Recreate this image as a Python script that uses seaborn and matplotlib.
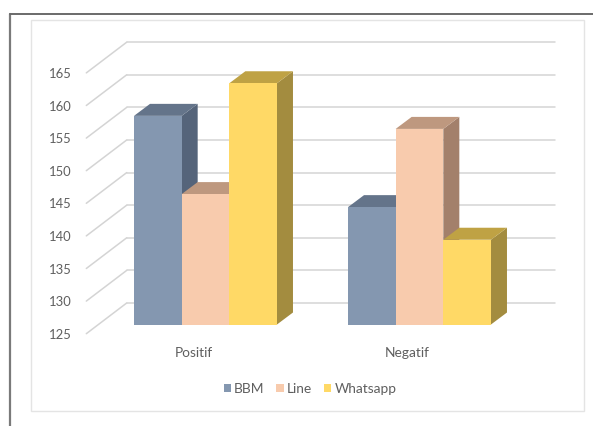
import matplotlib
matplotlib.use("Agg")
import matplotlib.pyplot as plt
import pandas as pd
import seaborn as sns
from matplotlib.lines import Line2D
from matplotlib.patches import Patch, Polygon, Rectangle
from matplotlib.transforms import ScaledTranslation

categories = ["Positif", "Negatif"]
series_names = ["BBM", "Line", "Whatsapp"]
bbm_values = [157, 143]
line_values = [145, 155]
whatsapp_values = [162, 138]
y_ticks = [125, 130, 135, 140, 145, 150, 155, 160, 165]
front_colors = ["#8497B0", "#F8CBAD", "#FFD966"]
top_colors = ["#64748A", "#BE987F", "#BFA244"]
side_colors = ["#55647A", "#A3806B", "#A38C3F"]

W, H, DPI = 593, 426, 100
PX_PER_CAT = 214.0
PX_PER_VAL = 6.52
BAR_DX, BAR_DY = 16 / PX_PER_CAT, 12 / PX_PER_VAL
WALL_DX, WALL_DY = 28.2 / PX_PER_CAT, 21.5 / PX_PER_VAL
FLOOR_DX, FLOOR_DY = 12.2 / PX_PER_CAT, 9.2 / PX_PER_VAL
GRID = "#D4D4D4"
TEXT = "#5F5F5F"

sns.set_theme(style="white")
plt.rcParams["font.family"] = ["Lato", "DejaVu Sans"]

df = pd.DataFrame({
    "category": categories * 3,
    "series": [s for s in series_names for _ in categories],
    "value": bbm_values + line_values + whatsapp_values,
})

fig = plt.figure(figsize=(W / DPI, H / DPI), dpi=DPI, facecolor="white")
left, bottom_px = 98.5, 324.5
ylim = (125, 170)
ax = fig.add_axes([left / W, (H - bottom_px) / H, 2 * PX_PER_CAT / W,
                   (ylim[1] - ylim[0]) * PX_PER_VAL / H])
ax.patch.set_alpha(0)

sns.barplot(data=df, x="category", y="value", hue="series", order=categories,
            hue_order=series_names, palette=front_colors, width=0.668, gap=0,
            saturation=1, errorbar=None, legend=False, ax=ax, linewidth=0)
ax.set_xlim(-0.5, 1.5)
ax.set_ylim(*ylim)
ax.set_xlabel("")
ax.set_ylabel("")
for s in ax.spines.values():
    s.set_visible(False)

# Floor-and-wall grid in the pseudo-3D projection
for v in y_ticks:
    ax.plot([-0.5 - FLOOR_DX, -0.5 + WALL_DX], [v - FLOOR_DY, v + WALL_DY],
            color=GRID, lw=1.1, clip_on=False, zorder=1)
    ax.plot([-0.5 + WALL_DX, 1.5 + WALL_DX], [v + WALL_DY, v + WALL_DY],
            color=GRID, lw=1.1, clip_on=False, zorder=1)

# Side and top faces built from each bar that seaborn drew
for i, container in enumerate(ax.containers):
    for bar in container:
        x0, w, top = bar.get_x(), bar.get_width(), bar.get_height()
        x1 = x0 + w
        bar.set_zorder(3 + 2 * i)
        ax.add_patch(Polygon([(x1, ylim[0]), (x1 + BAR_DX, ylim[0] + BAR_DY),
                              (x1 + BAR_DX, top + BAR_DY), (x1, top)],
                             closed=True, fc=side_colors[i], ec="none",
                             clip_on=False, zorder=2 + 2 * i))
        ax.add_patch(Polygon([(x0, top), (x0 + BAR_DX, top + BAR_DY),
                              (x1 + BAR_DX, top + BAR_DY), (x1, top)],
                             closed=True, fc=top_colors[i], ec="none",
                             clip_on=False, zorder=2 + 2 * i))

# Tick labels sit on the front edge of the floor
ax.set_yticks(y_ticks)
ax.set_yticklabels([str(v) for v in y_ticks])
ax.tick_params(axis="y", length=0, pad=19.6, labelsize=9.4, labelcolor=TEXT)
ax.tick_params(axis="x", length=0, pad=16.0, labelsize=9.9, labelcolor=TEXT)
y_shift = ScaledTranslation(0, -9.2 / DPI, fig.dpi_scale_trans)
x_shift = ScaledTranslation(-12.0 / DPI, 0, fig.dpi_scale_trans)
for lab in ax.get_yticklabels():
    lab.set_transform(lab.get_transform() + y_shift)
for lab in ax.get_xticklabels():
    lab.set_transform(lab.get_transform() + x_shift)

handles = [Patch(fc=c, ec="none", label=n) for c, n in zip(front_colors, series_names)]
fig.legend(handles=handles, ncol=3, loc="center",
           bbox_to_anchor=(310 / W, (H - 389) / H), frameon=False,
           fontsize=9.9, labelcolor=TEXT, handlelength=0.55, handleheight=0.55,
           handletextpad=0.22, columnspacing=0.85)

# Frames
fig.add_artist(Rectangle((30.5 / W, (H - 411) / H), 553.5 / W, 391 / H,
                         transform=fig.transFigure, fc="none", ec="#E4E4E4", lw=1.0))
fig.add_artist(Line2D([9.5 / W, 9.5 / W], [0, (H - 14) / H], color="#7A7A7A", lw=1.6))
fig.add_artist(Line2D([9.5 / W, 1], [(H - 14) / H, (H - 14) / H], color="#6A6A6A", lw=1.4))

fig.savefig("out.png", dpi=DPI, facecolor="white")
